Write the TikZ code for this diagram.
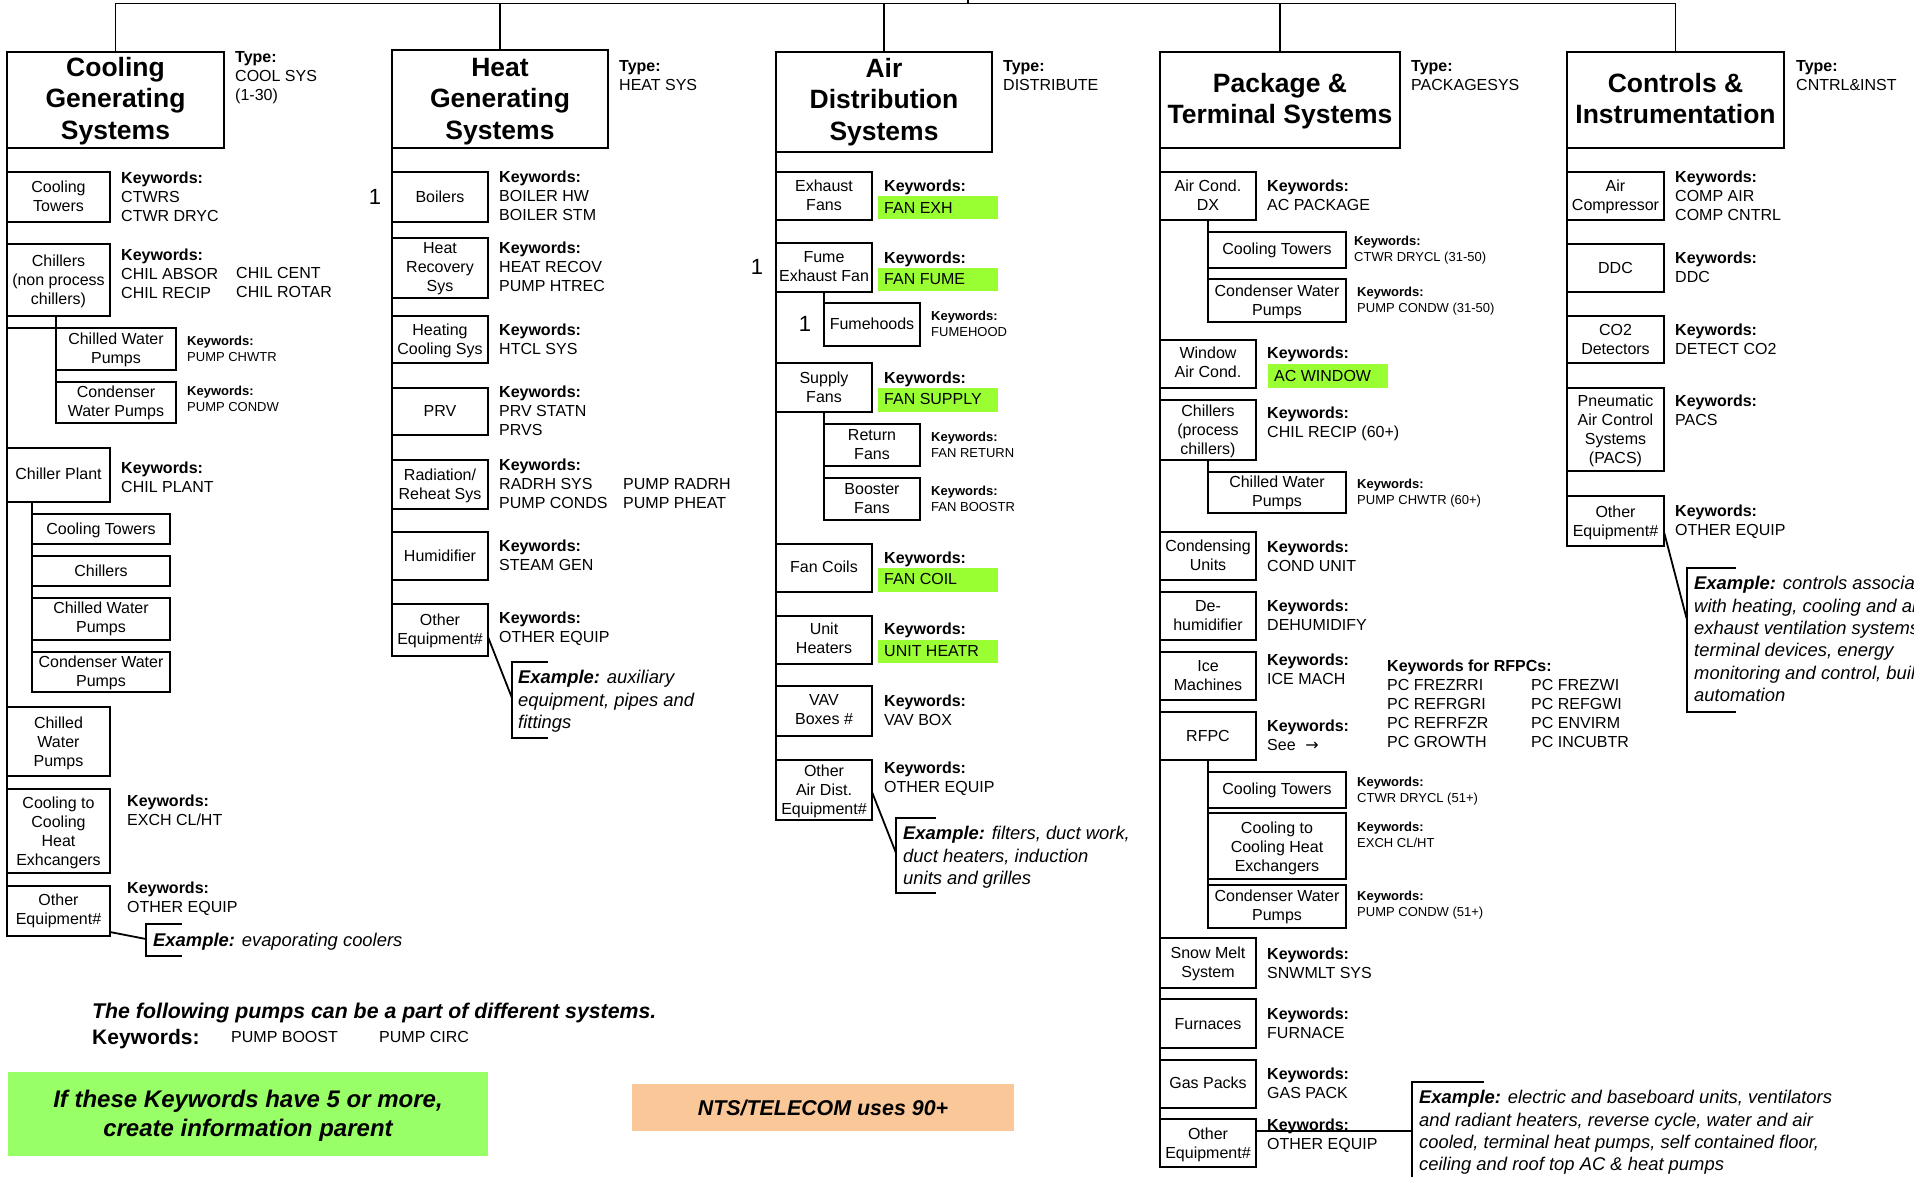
\documentclass[tikz,border=0pt]{standalone}
\usepackage{fontspec}
\setmainfont{Liberation Sans}
\newfontfamily\dejavu{DejaVu Sans}
\usetikzlibrary{calc}
\definecolor{hlgreen}{RGB}{153,255,51}
\definecolor{notegreen}{RGB}{153,255,102}
\definecolor{notepeach}{RGB}{250,199,153}
\newcommand\szA{\fontsize{16}{19}\selectfont}
\newcommand\szS{\fontsize{13}{15.5}\selectfont}
\newcommand\szT{\fontsize{26.5}{31.5}\selectfont\bfseries}
\newcommand\szE{\fontsize{18.4}{22.4}\selectfont\itshape}
\newcommand\szN{\fontsize{22}{26}\selectfont}
\newcommand\szF{\fontsize{21.3}{25}\selectfont\bfseries\itshape}
\newcommand\szK{\fontsize{21}{25}\selectfont\bfseries}
\newcommand\szG{\fontsize{24}{29}\selectfont\bfseries\itshape}
\newcommand\szO{\fontsize{21.4}{25}\selectfont\bfseries\itshape}
\newcommand\KW{\textbf{Keywords:}}
\newcommand\ctab[1]{\begin{tabular}[t]{@{}c@{}}#1\end{tabular}}
\newcommand\ltab[1]{\begin{tabular}[t]{@{}l@{}}#1\end{tabular}}
\newcommand\mkbox[7]{%
  \node[bx, minimum width={(#4)-(#2)}, minimum height={(#5)-(#3)}] (#1) at ({((#2)+(#4))/2},{((#3)+(#5))/2}) {};
  \node[bxt, anchor=base] (#1-t) at ({((#2)+(#4))/2},{(#6)+5.7}) {\ctab{#7}};}
\newcommand\mktitle[7]{%
  \node[bx, minimum width={(#4)-(#2)}, minimum height={(#5)-(#3)}] (#1) at ({((#2)+(#4))/2},{((#3)+(#5))/2}) {};
  \node[ttl, anchor=base] (#1-t) at ({((#2)+(#4))/2},{(#6)+9.5}) {\ctab{#7}};}
\newcommand\mkkw[4]{\node[kwt, anchor=base west] (#1) at (#2,{(#3)+5.7}) {\ltab{#4}};}
\newcommand\mkks[4]{\node[kws, anchor=base west] (#1) at (#2,{(#3)+4.7}) {\ltab{#4}};}
\newcommand\mkex[4]{\node[ext, anchor=base west] (#1) at (#2,{(#3)+6.6}) {\ltab{#4}};}
\tikzset{
 bx/.style={draw, line width=1.8pt, inner sep=0pt, outer sep=0pt},
 bxt/.style={inner sep=0pt, font=\szA},
 ttl/.style={inner sep=0pt, font=\szT},
 kwt/.style={inner sep=0pt, font=\szA},
 kws/.style={inner sep=0pt, font=\szS},
 ext/.style={inner sep=0pt, font=\szE},
 ln/.style={line width=1.8pt},
}
\begin{document}
\begin{tikzpicture}[x=1pt,y=-1pt]
\useasboundingbox (0,0) rectangle (1914,1177);
\clip (0,0) rectangle (1914,1177);
\fill[white] (0,0) rectangle (1914,1177);
% highlight bars
\fill[hlgreen] (878,196) rectangle (998,219);
\fill[hlgreen] (878,268) rectangle (998,291);
\fill[hlgreen] (878,388) rectangle (998,412);
\fill[hlgreen] (878,568) rectangle (998,592);
\fill[hlgreen] (878,640) rectangle (998,663);
\fill[hlgreen] (1268,364) rectangle (1388,388);
% ===== Cooling =====
\mktitle{t1}{7}{52}{224}{148}{67}{Cooling\\Generating\\Systems}
\mkkw{t1y}{235}{57}{\textbf{Type:}\\COOL SYS\\(1-30)}
\mkbox{c1}{7}{172}{110}{222}{187}{Cooling\\Towers}
\mkkw{c1k}{121}{178}{\KW\\CTWRS\\CTWR DRYC}
\mkbox{c2}{7}{244}{110}{316}{261}{Chillers\\(non process\\chillers)}
\mkkw{c2k}{121}{255}{\KW\\CHIL ABSOR\\CHIL RECIP}
\mkkw{c2k2}{236}{273}{CHIL CENT\\CHIL ROTAR}
\mkbox{c2a}{56}{328}{176}{370}{339}{Chilled Water\\Pumps}
\mkks{c2ak}{187}{341}{\KW\\PUMP CHWTR}
\mkbox{c2b}{56}{382}{176}{423}{392}{Condenser\\Water Pumps}
\mkks{c2bk}{187}{391}{\KW\\PUMP CONDW}
\mkbox{c3}{7}{448}{110}{502}{474}{Chiller Plant}
\mkkw{c3k}{121}{468}{\KW\\CHIL PLANT}
\mkbox{c3a}{32}{514}{170}{544}{529}{Cooling Towers}
\mkbox{c3b}{32}{556}{170}{586}{571}{Chillers}
\mkbox{c3c}{32}{598}{170}{640}{608}{Chilled Water\\Pumps}
\mkbox{c3d}{32}{652}{170}{692}{662}{Condenser Water\\Pumps}
\mkbox{c4}{7}{707}{110}{776}{723}{Chilled\\Water\\Pumps}
\mkbox{c5}{7}{789}{110}{873}{803}{Cooling to\\Cooling\\Heat\\Exhcangers}
\mkkw{c5k}{127}{801}{\KW\\EXCH CL/HT}
\mkbox{c6}{7}{886}{110}{936}{900}{Other\\Equipment\#}
\mkkw{c6k}{127}{888}{\KW\\OTHER EQUIP}
\mkex{c6e}{153}{940}{\textbf{Example:} evaporating coolers}
\draw[ln] (t1.south west) -- (c6.north west);
\draw[ln] (c2a.north west |- c2.south) -- (c2b.north west);
\draw[ln] (c2.south west |- c2a.north west) -- (c2a.north west);
\draw[ln] (c3a.north west |- c3.south) -- (c3d.north west);
\draw[ln] (182,924) -- (146,924) -- (146,956) -- (182,956);
\coordinate (e1a) at (146,939);
\draw[ln] ($(c6.south east)+(0,-4)$) -- (e1a);
% ===== bottom notes =====
\node[anchor=base west, font=\szF, inner sep=0] (fol) at (92,1018.6) {The following pumps can be a part of different systems.};
\node[anchor=base west, font=\szK, inner sep=0] (folk) at (92,1044.5) {Keywords:};
\node[anchor=base west, font=\szA, inner sep=0] (pb) at (231,1042.7) {PUMP BOOST};
\node[anchor=base west, font=\szA, inner sep=0] (pc) at (379,1042.7) {PUMP CIRC};
\node[fill=notegreen, inner sep=0, minimum width=480, minimum height=84] (gnote) at (248,1114) {};
\node[anchor=base, font=\szG, inner sep=0] (gnotet) at (248,1107.6) {\ctab{If these Keywords have 5 or more,\\create information parent}};
\node[fill=notepeach, inner sep=0, minimum width=382, minimum height=47] (onote) at (823,1107.5) {};
\node[anchor=base, font=\szO, inner sep=0] (onotet) at (823,1115) {NTS/TELECOM uses 90+};
% ===== Heat =====
\mktitle{t2}{392}{50}{608}{148}{67}{Heat\\Generating\\Systems}
\mkkw{t2y}{619}{66}{\textbf{Type:}\\HEAT SYS}
\node[font=\szN, inner sep=0] (n1) at (375,197) {1};
\mkbox{h1}{392}{172}{488}{222}{197}{Boilers}
\mkkw{h1k}{499}{177}{\KW\\BOILER HW\\BOILER STM}
\mkbox{h2}{392}{238}{488}{298}{248}{Heat\\Recovery\\Sys}
\mkkw{h2k}{499}{248}{\KW\\HEAT RECOV\\PUMP HTREC}
\mkbox{h3}{392}{316}{488}{363}{330}{Heating\\Cooling Sys}
\mkkw{h3k}{499}{330}{\KW\\HTCL SYS}
\mkbox{h4}{392}{388}{488}{435}{411}{PRV}
\mkkw{h4k}{499}{392}{\KW\\PRV STATN\\PRVS}
\mkbox{h5}{392}{460}{488}{509}{475}{Radiation/\\Reheat Sys}
\mkkw{h5k}{499}{465}{\KW\\RADRH SYS\\PUMP CONDS}
\mkkw{h5k2}{623}{484}{PUMP RADRH\\PUMP PHEAT}
\mkbox{h6}{392}{532}{488}{580}{556}{Humidifier}
\mkkw{h6k}{499}{546}{\KW\\STEAM GEN}
\mkbox{h7}{392}{604}{488}{656}{620}{Other\\Equipment\#}
\mkkw{h7k}{499}{618}{\KW\\OTHER EQUIP}
\mkex{h7e}{518}{677}{\textbf{Example:} auxiliary\\equipment, pipes and\\fittings}
\draw[ln] (t2.south west) -- (h7.north west);
\draw[ln] (548,662) -- (512,662) -- (512,738) -- (548,738);
\coordinate (e2a) at (512,698);
\draw[ln] ($(h7.east)+(0,7)$) -- (e2a);
% ===== Air =====
\mktitle{t3}{776}{52}{992}{152}{68}{Air\\Distribution\\Systems}
\mkkw{t3y}{1003}{66}{\textbf{Type:}\\DISTRIBUTE}
\node[font=\szN, inner sep=0] (n2) at (757,267) {1};
\node[font=\szN, inner sep=0] (n3) at (805,324) {1};
\mkbox{a1}{776}{172}{872}{220}{186}{Exhaust\\Fans}
\mkkw{a1k}{884}{186}{\KW}
\mkkw{a1v}{884}{208}{FAN EXH}
\mkbox{a2}{776}{243}{872}{292}{257}{Fume\\Exhaust Fan}
\mkkw{a2k}{884}{258}{\KW}
\mkkw{a2v}{884}{279}{FAN FUME}
\mkbox{a2a}{824}{303}{920}{346}{324}{Fumehoods}
\mkks{a2ak}{931}{316}{\KW\\FUMEHOOD}
\mkbox{a3}{776}{363}{872}{412}{378}{Supply\\Fans}
\mkkw{a3k}{884}{378}{\KW}
\mkkw{a3v}{884}{399}{FAN SUPPLY}
\mkbox{a3a}{824}{424}{920}{466}{435}{Return\\Fans}
\mkks{a3ak}{931}{437}{\KW\\FAN RETURN}
\mkbox{a3b}{824}{478}{920}{520}{489}{Booster\\Fans}
\mkks{a3bk}{931}{491}{\KW\\FAN BOOSTR}
\mkbox{a4}{776}{544}{872}{592}{567}{Fan Coils}
\mkkw{a4k}{884}{558}{\KW}
\mkkw{a4v}{884}{579}{FAN COIL}
\mkbox{a5}{776}{616}{872}{664}{629}{Unit\\Heaters}
\mkkw{a5k}{884}{629}{\KW}
\mkkw{a5v}{884}{651}{UNIT HEATR}
\mkbox{a6}{776}{686}{872}{736}{700}{VAV\\Boxes \#}
\mkkw{a6k}{884}{701}{\KW\\VAV BOX}
\mkbox{a7}{776}{760}{872}{820}{771}{Other\\Air Dist.\\Equipment\#}
\mkkw{a7k}{884}{768}{\KW\\OTHER EQUIP}
\mkex{a7e}{903}{833}{\textbf{Example:} filters, duct work,\\duct heaters, induction\\units and grilles}
\draw[ln] (t3.south west) -- (a7.north west);
\draw[ln] (a2a.north west |- a2.south) -- (a2a.north west);
\draw[ln] (a3a.north west |- a3.south) -- (a3b.north west);
\draw[ln] (936,818) -- (896,818) -- (896,893) -- (936,893);
\coordinate (e3a) at (896,853);
\draw[ln] ($(a7.east)+(0,2)$) -- (e3a);
% ===== Package =====
\mktitle{t4}{1160}{52}{1400}{148}{83}{Package \&\\Terminal Systems}
\mkkw{t4y}{1411}{66}{\textbf{Type:}\\PACKAGESYS}
\mkbox{p1}{1160}{172}{1256}{220}{186}{Air Cond.\\DX}
\mkkw{p1k}{1267}{186}{\KW\\AC PACKAGE}
\mkbox{p1a}{1208}{232}{1346}{268}{249}{Cooling Towers}
\mkks{p1ak}{1354}{241}{\KW\\CTWR DRYCL (31-50)}
\mkbox{p1b}{1208}{279}{1346}{322}{291}{Condenser Water\\Pumps}
\mkks{p1bk}{1357}{292}{\KW\\PUMP CONDW (31-50)}
\mkbox{p2}{1160}{340}{1256}{388}{353}{Window\\Air Cond.}
\mkkw{p2k}{1267}{353}{\KW}
\mkkw{p2v}{1274}{376}{AC WINDOW}
\mkbox{p3}{1160}{400}{1256}{460}{411}{Chillers\\(process\\chillers)}
\mkkw{p3k}{1267}{413}{\KW\\CHIL RECIP (60+)}
\mkbox{p3a}{1208}{472}{1346}{513}{482}{Chilled Water\\Pumps}
\mkks{p3ak}{1357}{484}{\KW\\PUMP CHWTR (60+)}
\mkbox{p4}{1160}{532}{1256}{580}{546}{Condensing\\Units}
\mkkw{p4k}{1267}{547}{\KW\\COND UNIT}
\mkbox{p5}{1160}{592}{1256}{640}{606}{De-\\humidifier}
\mkkw{p5k}{1267}{606}{\KW\\DEHUMIDIFY}
\mkbox{p6}{1160}{652}{1256}{700}{666}{Ice\\Machines}
\mkkw{p6k}{1267}{660}{\KW\\ICE MACH}
\mkbox{p7}{1160}{712}{1256}{760}{736}{RFPC}
\mkkw{p7k}{1267}{726}{\KW\\See\hspace{0.6em}{\dejavu →}}
\mkkw{rf1}{1387}{666}{\textbf{Keywords for RFPCs:}\\PC FREZRRI\\PC REFRGRI\\PC REFRFZR\\PC GROWTH}
\mkkw{rf2}{1531}{685}{PC FREZWI\\PC REFGWI\\PC ENVIRM\\PC INCUBTR}
\mkbox{p7a}{1208}{772}{1346}{808}{789}{Cooling Towers}
\mkks{p7ak}{1357}{782}{\KW\\CTWR DRYCL (51+)}
\mkbox{p7b}{1208}{813}{1346}{879}{828}{Cooling to\\Cooling Heat\\Exchangers}
\mkks{p7bk}{1357}{827}{\KW\\EXCH CL/HT}
\mkbox{p7c}{1208}{885}{1346}{928}{896}{Condenser Water\\Pumps}
\mkks{p7ck}{1357}{896}{\KW\\PUMP CONDW (51+)}
\mkbox{p8}{1160}{938}{1256}{988}{953}{Snow Melt\\System}
\mkkw{p8k}{1267}{954}{\KW\\SNWMLT SYS}
\mkbox{p9}{1160}{999}{1256}{1048}{1024}{Furnaces}
\mkkw{p9k}{1267}{1014}{\KW\\FURNACE}
\mkbox{p10}{1160}{1060}{1256}{1108}{1083}{Gas Packs}
\mkkw{p10k}{1267}{1074}{\KW\\GAS PACK}
\mkbox{p11}{1160}{1119}{1256}{1167}{1134}{Other\\Equipment\#}
\mkkw{p11k}{1267}{1125}{\KW\\OTHER EQUIP}
\mkex{p11e}{1419}{1097}{\textbf{Example:} electric and baseboard units, ventilators\\and radiant heaters, reverse cycle, water and air\\cooled, terminal heat pumps, self contained floor,\\ceiling and roof top AC \& heat pumps}
\draw[ln] (t4.south west) -- (p11.north west);
\draw[ln] (p1a.north west |- p1.south) -- (p1b.north west);
\draw[ln] (p3a.north west |- p3.south) -- (p3a.north west);
\draw[ln] (p7a.north west |- p7.south) -- (p7c.north west);
\draw[ln] (1484,1082) -- (1412,1082) -- (1412,1185);
\coordinate (e4a) at (1412,1131);
\draw[ln] ($(p11.east)+(0,-12)$) -- (e4a);
% ===== Controls =====
\mktitle{t5}{1567}{52}{1784}{148}{83}{Controls \&\\Instrumentation}
\mkkw{t5y}{1796}{66}{\textbf{Type:}\\CNTRL\&INST}
\mkbox{k1}{1567}{172}{1664}{220}{186}{Air\\Compressor}
\mkkw{k1k}{1675}{177}{\KW\\COMP AIR\\COMP CNTRL}
\mkbox{k2}{1567}{244}{1664}{292}{268}{DDC}
\mkkw{k2k}{1675}{258}{\KW\\DDC}
\mkbox{k3}{1567}{316}{1664}{363}{330}{CO2\\Detectors}
\mkkw{k3k}{1675}{330}{\KW\\DETECT CO2}
\mkbox{k4}{1567}{388}{1664}{471}{401}{Pneumatic\\Air Control\\Systems\\(PACS)}
\mkkw{k4k}{1675}{401}{\KW\\PACS}
\mkbox{k5}{1567}{496}{1664}{546}{512}{Other\\Equipment\#}
\mkkw{k5k}{1675}{511}{\KW\\OTHER EQUIP}
\mkex{k5e}{1694}{583}{\textbf{Example:} controls associated\\with heating, cooling and air\\exhaust ventilation systems,\\terminal devices, energy\\monitoring and control, building\\automation}
\draw[ln] (t5.south west) -- (k5.north west);
\draw[ln] (1736,568) -- (1687,568) -- (1687,712) -- (1736,712);
\coordinate (e5a) at (1687,620);
\draw[ln] ($(k5.east)+(0,11)$) -- (e5a);
% ===== root bus =====
\coordinate (bus) at (968,3.5);
\coordinate (rootup) at (968,-3);
\draw[ln] (bus) -- (rootup);
\draw[ln] (t1.north) -- (t1.north |- bus) -- (t5.north |- bus) -- (t5.north);
\foreach \t in {t2,t3,t4} \draw[ln] (\t.north) -- (\t.north |- bus);
\end{tikzpicture}
\end{document}
